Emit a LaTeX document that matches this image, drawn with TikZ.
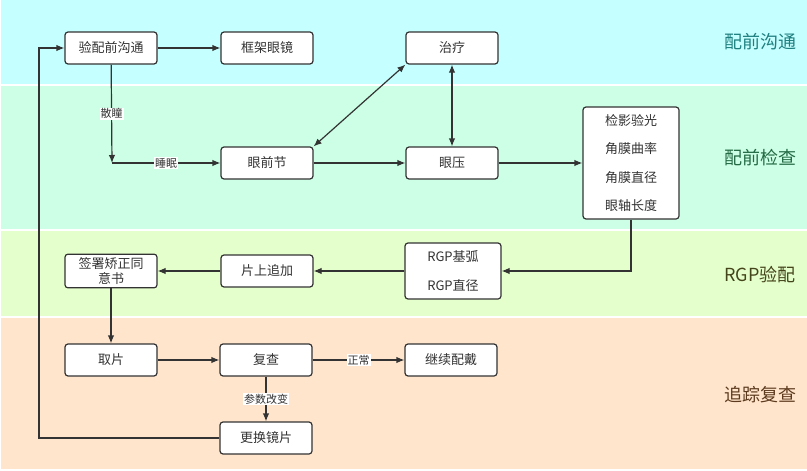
\documentclass[tikz,border=0pt]{standalone}
\usepackage{fontspec}
\setmainfont{Noto Sans CJK SC}
\usetikzlibrary{arrows.meta}

\definecolor{ink}{HTML}{333333}
\definecolor{bandA}{HTML}{C6FFFF}
\definecolor{bandB}{HTML}{CCFFE5}
\definecolor{bandC}{HTML}{E5FFCC}
\definecolor{bandD}{HTML}{FFE5CC}
\definecolor{tagA}{HTML}{1F7F7F}
\definecolor{tagB}{HTML}{246A45}
\definecolor{tagC}{HTML}{45451C}
\definecolor{tagD}{HTML}{5C3A1E}

\begin{document}
\begin{tikzpicture}[x = 1pt, y = -1pt, > = {Latex[length = 8pt, width = 6.5pt]},
	box/.style = {draw = ink, fill = white, line width = 1.2pt, rounded corners = 3pt,
		minimum width = 92pt, minimum height = 32pt, text = ink, align = center,
		font = \fontsize{13}{15}\selectfont},
	lab/.style = {fill = white, inner sep = 1pt, text = ink, font = \fontsize{11}{13}\selectfont},
	tag/.style = {font = \fontsize{18}{20}\selectfont},
	flow/.style = {draw = ink, line width = 1.2pt}]

	\useasboundingbox (0, 0) rectangle (807, 471);

	% Bands
	
	\fill [bandA] (1, 0) rectangle (807, 84);
	\fill [bandB] (1, 86) rectangle (807, 229);
	\fill [bandC] (1, 231) rectangle (807, 316);
	\fill [bandD] (1, 318) rectangle (807, 469);

	\node [tag, text = tagA] (tagpre) at (760, 42) {配前沟通};
	\node [tag, text = tagB] (tagexam) at (760, 158) {配前检查};
	\node [tag, text = tagC] (tagrgp) at (760, 275) {RGP验配};
	\node [tag, text = tagD] (tagfollow) at (760, 395) {追踪复查};

	% Boxes
	
	\node [box] (pre) at (111, 48) {验配前沟通};
	\node [box] (frame) at (267, 48) {框架眼镜};
	\node [box] (treat) at (452, 48) {治疗};
	\node [box] (front) at (267, 163) {眼前节};
	\node [box] (iop) at (452, 163) {眼压};
	\node [box, minimum width = 96pt, minimum height = 112pt, font = \fontsize{13}{28.5}\selectfont]
		(exam) at (631, 163) {检影验光\\角膜曲率\\角膜直径\\眼轴长度};
	\node [box, minimum width = 96pt, minimum height = 56pt, font = \fontsize{13}{29}\selectfont]
		(rgp) at (453, 271) {RGP基弧\\RGP直径};
	\node [box] (addon) at (267, 271) {片上追加};
	\node [box] (consent) at (111, 271) {签署矫正同\\意书};
	\node [box] (pickup) at (111, 360) {取片};
	\node [box] (recheck) at (266, 360) {复查};
	\node [box] (keep) at (451, 360) {继续配戴};
	\node [box] (swap) at (266, 438) {更换镜片};

	\coordinate (split) at (112, 163);
	\coordinate (loop) at (39, 438);

	% Connectors
	
	\draw [flow, ->] (pre) -- (frame);
	\draw [flow, ->] (pre) -- node [lab] {散瞳} (split);
	\draw [flow, ->] (split) -- node [lab] {睡眠} (front);
	\draw [flow, <->] (front.north east) -- (treat.south west);
	\draw [flow, <->] (treat) -- (iop);
	\draw [flow, ->] (front) -- (iop);
	\draw [flow, ->] (iop) -- (exam);
	\draw [flow, ->] (exam.south) |- (rgp.east);
	\draw [flow, ->] (rgp) -- (addon);
	\draw [flow, ->] (addon) -- (consent);
	\draw [flow, ->] (consent) -- (pickup);
	\draw [flow, ->] (pickup) -- (recheck);
	\draw [flow, ->] (recheck) -- node [lab] {正常} (keep);
	\draw [flow, ->] (recheck) -- node [lab] {参数改变} (swap);
	\draw [flow, ->] (swap) -- (loop) |- (pre);

\end{tikzpicture}
\end{document}
